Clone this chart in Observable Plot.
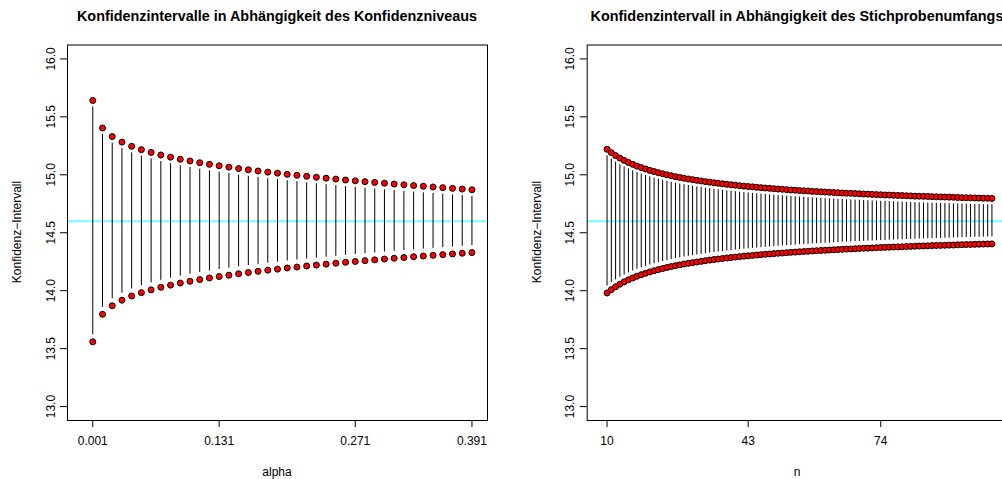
<!DOCTYPE html>
<html><head><meta charset="utf-8">
<script src="https://cdn.jsdelivr.net/npm/d3@7"></script>
<script src="https://cdn.jsdelivr.net/npm/@observablehq/plot@0.6"></script>
<style>
html,body{margin:0;padding:0;background:#fff;}
#wrap{position:relative;width:1002px;height:479px;overflow:hidden;font-family:"Liberation Sans",Arial,Helvetica,sans-serif;color:#000;}
.panel{position:absolute;top:0;}
.lbl{position:absolute;white-space:nowrap;transform:translate(-50%,-50%);font-size:12px;line-height:1;}
.ttl{font-weight:bold;font-size:14.4px;}
.rot{transform:translate(-50%,-50%) rotate(-90deg);}
</style></head><body>
<div id="wrap"></div>
<script>
// ---- Data ----
const MEAN = 14.6;
const yTicks = [13.0, 13.5, 14.0, 14.5, 15.0, 15.5, 16.0];

// Left panel: confidence level
const alpha = [0.001,0.011,0.021,0.031,0.041,0.051,0.061,0.071,0.081,0.091,0.101,0.111,0.121,0.131,0.141,0.151,0.161,0.171,0.181,0.191,0.201,0.211,0.221,0.231,0.241,0.251,0.261,0.271,0.281,0.291,0.301,0.311,0.321,0.331,0.341,0.351,0.361,0.371,0.381,0.391];
const alphaUpper = [15.641,15.404,15.330,15.282,15.246,15.217,15.193,15.171,15.152,15.134,15.119,15.104,15.090,15.078,15.066,15.054,15.043,15.033,15.023,15.014,15.004,14.996,14.987,14.979,14.971,14.963,14.955,14.948,14.941,14.934,14.927,14.920,14.914,14.907,14.901,14.895,14.889,14.883,14.877,14.871];
const alphaLower = [13.559,13.796,13.870,13.918,13.954,13.983,14.007,14.029,14.048,14.066,14.081,14.096,14.110,14.122,14.134,14.146,14.157,14.167,14.177,14.186,14.196,14.204,14.213,14.221,14.229,14.237,14.245,14.252,14.259,14.266,14.273,14.280,14.286,14.293,14.299,14.305,14.311,14.317,14.323,14.329];
const alphaTicks = [0.001, 0.131, 0.271, 0.391];

// Right panel: sample size
const nVals = [10,11,12,13,14,15,16,17,18,19,20,21,22,23,24,25,26,27,28,29,30,31,32,33,34,35,36,37,38,39,40,41,42,43,44,45,46,47,48,49,50,51,52,53,54,55,56,57,58,59,60,61,62,63,64,65,66,67,68,69,70,71,72,73,74,75,76,77,78,79,80,81,82,83,84,85,86,87,88,89,90,91,92,93,94,95,96,97,98,99,100];
const nUpper = [15.220,15.191,15.166,15.144,15.124,15.106,15.090,15.075,15.062,15.050,15.038,15.028,15.018,15.009,15.000,14.992,14.984,14.977,14.970,14.964,14.958,14.952,14.947,14.941,14.936,14.931,14.927,14.922,14.918,14.914,14.910,14.906,14.902,14.899,14.896,14.892,14.889,14.886,14.883,14.880,14.877,14.875,14.872,14.869,14.867,14.864,14.862,14.860,14.857,14.855,14.853,14.851,14.849,14.847,14.845,14.843,14.841,14.840,14.838,14.836,14.834,14.833,14.831,14.829,14.828,14.826,14.825,14.823,14.822,14.821,14.819,14.818,14.816,14.815,14.814,14.813,14.811,14.810,14.809,14.808,14.807,14.806,14.804,14.803,14.802,14.801,14.800,14.799,14.798,14.797,14.796];
const nLower = [13.980,14.009,14.034,14.056,14.076,14.094,14.110,14.125,14.138,14.150,14.162,14.172,14.182,14.191,14.200,14.208,14.216,14.223,14.230,14.236,14.242,14.248,14.253,14.259,14.264,14.269,14.273,14.278,14.282,14.286,14.290,14.294,14.298,14.301,14.304,14.308,14.311,14.314,14.317,14.320,14.323,14.325,14.328,14.331,14.333,14.336,14.338,14.340,14.343,14.345,14.347,14.349,14.351,14.353,14.355,14.357,14.359,14.360,14.362,14.364,14.366,14.367,14.369,14.371,14.372,14.374,14.375,14.377,14.378,14.379,14.381,14.382,14.384,14.385,14.386,14.387,14.389,14.390,14.391,14.392,14.393,14.394,14.396,14.397,14.398,14.399,14.400,14.401,14.402,14.403,14.404];
const nTicks = [10, 43, 74];

const FONT = '"Liberation Sans", Arial, Helvetica, sans-serif';

function panel({xs, up, lo, xDomain, xTicks, xFmt, width, marginLeft, marginRight}) {
  const data = xs.map((x, i) => ({x, up: up[i], lo: lo[i]}));
  return Plot.plot({
    width, height: 479,
    marginLeft, marginRight, marginTop: 44.5, marginBottom: 59,
    style: {fontFamily: FONT, fontSize: "12px", background: "transparent", color: "#000", overflow: "visible"},
    x: {domain: xDomain, axis: null},
    y: {domain: [12.88, 16.12], axis: null},
    marks: [
      Plot.ruleY([MEAN], {stroke: "#00ffff", strokeOpacity: 0.55, strokeWidth: 2}),
      Plot.ruleX(data, {x: "x", y1: "up", y2: "lo", stroke: "#000", strokeWidth: 1, insetTop: 6.5, insetBottom: 7}),
      Plot.dot(data, {x: "x", y: "up", r: 3, fill: "#ff0000", stroke: "#000", strokeWidth: 1}),
      Plot.dot(data, {x: "x", y: "lo", r: 3, fill: "#ff0000", stroke: "#000", strokeWidth: 1}),
      Plot.frame({stroke: "#000", strokeWidth: 1}),
      Plot.axisX({ticks: xTicks, tickFormat: xFmt, tickSize: 7, tickPadding: 9, fontSize: 12, label: null}),
      Plot.axisY({ticks: yTicks, tickFormat: d3.format(".1f"), tickSize: 7, tickPadding: 6, tickRotate: -90, fontSize: 12, label: null})
    ]
  });
}

const wrap = document.getElementById("wrap");

const left = panel({xs: alpha, up: alphaUpper, lo: alphaLower, xDomain: [-0.025, 0.407], xTicks: alphaTicks, xFmt: d3.format(".3f"), width: 501, marginLeft: 67, marginRight: 14});
left.classList.add("panel"); left.style.left = "0px";
wrap.appendChild(left);

const right = panel({xs: nVals, up: nUpper, lo: nLower, xDomain: [5.36, 103.64], xTicks: nTicks, xFmt: d3.format("d"), width: 510, marginLeft: 85.7, marginRight: 4});
right.classList.add("panel"); right.style.left = "501px";
wrap.appendChild(right);

function label(text, x, y, cls) {
  const d = document.createElement("div");
  d.className = "lbl " + (cls || "");
  d.style.left = x + "px"; d.style.top = y + "px";
  d.textContent = text;
  wrap.appendChild(d);
}
label("Konfidenzintervalle in Abhängigkeit des Konfidenzniveaus", 277, 16, "ttl");
label("Konfidenzintervall in Abhängigkeit des Stichprobenumfangs", 797, 16, "ttl");
label("alpha", 277, 472);
label("n", 797, 472);
label("Konfidenz\u2212Intervall", 17, 232, "rot");
label("Konfidenz\u2212Intervall", 537, 232, "rot");
</script>
</body></html>
